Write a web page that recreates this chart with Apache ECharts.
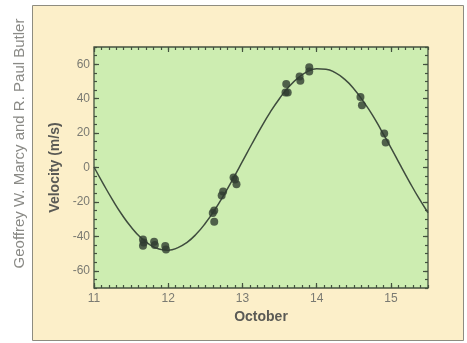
<!DOCTYPE html>
<html>
<head>
<meta charset="utf-8">
<script src="https://cdn.jsdelivr.net/npm/echarts@6/dist/echarts.min.js"></script>
<style>
html,body{margin:0;padding:0;background:#ffffff;}
#chart{width:467px;height:343px;}
</style>
</head>
<body>
<div id="chart"></div>
<script>
// Observed radial velocities (day of October, m/s)
var obsDay = [11.66, 11.67, 11.66, 11.81, 11.82, 11.96, 11.97,
              12.62, 12.60, 12.62, 12.74, 12.72, 12.88, 12.90, 12.92,
              13.59, 13.61, 13.58, 13.77, 13.78, 13.90, 13.90,
              14.59, 14.61, 14.91, 14.93];
var obsVel = [-41.8, -43.5, -45.5, -43.1, -45.0, -45.6, -47.6,
              -25.0, -26.5, -31.5, -14.0, -16.3, -5.8, -7.0, -9.7,
              48.5, 43.5, 43.5, 52.8, 50.4, 58.3, 55.8,
              41.0, 36.1, 19.7, 14.5];
// Fitted curve
var fitDay = [11.0, 11.125, 11.25, 11.375, 11.5, 11.625, 11.75, 11.875,
              12.0, 12.125, 12.25, 12.375, 12.5, 12.625, 12.75, 12.875,
              13.0, 13.125, 13.25, 13.375, 13.5, 13.625, 13.75, 13.875,
              14.0, 14.125, 14.25, 14.375, 14.5, 14.625, 14.75, 14.875,
              15.0, 15.125, 15.25, 15.375, 15.5];
var fitVel = [0.3, -9.5, -18.8, -27.3, -34.6, -40.5, -44.8, -47.3,
              -48.0, -46.7, -43.6, -38.8, -32.4, -24.7, -15.9, -6.4,
              3.5, 13.5, 23.2, 32.2, 40.1, 46.9, 52.1, 55.7,
              57.3, 57.1, 55.1, 51.3, 45.8, 38.6, 30.6, 21.2,
              11.6, 1.5, -8.3, -17.7, -26.3];
// Tick labels
var xTicks = [11, 12, 13, 14, 15];
var yTicks = [-60, -40, -20, 0, 20, 40, 60];
var xMinor = [];
for (var i = 0; i <= 45; i++) xMinor.push(Math.round((11 + i * 0.1) * 10) / 10);
var yMinor = [];
for (var j = -70; j <= 70; j += 5) yMinor.push(j);

var axisColor = '#44513f';
var labelColor = '#7a7a72';

function xAx(pos, ticks, len, labels, extra) {
  var a = {
    type: 'value', position: pos, min: 11, max: 15.5, gridIndex: 0,
    axisLine: {show: false, onZero: false},
    splitLine: {show: false},
    axisTick: {show: true, inside: true, length: len, customValues: ticks,
               lineStyle: {color: axisColor, width: 1.2}},
    axisLabel: labels ? {show: true, customValues: ticks, color: labelColor,
               fontSize: 12, fontFamily: 'Liberation Sans, Arial, sans-serif', margin: 5}
             : {show: false}
  };
  return Object.assign(a, extra || {});
}
function yAx(pos, ticks, len, labels, extra) {
  var a = {
    type: 'value', position: pos, min: -70, max: 70, gridIndex: 0,
    axisLine: {show: false, onZero: false},
    splitLine: {show: false},
    axisTick: {show: true, inside: true, length: len, customValues: ticks,
               lineStyle: {color: axisColor, width: 1.2}},
    axisLabel: labels ? {show: true, customValues: ticks, color: labelColor,
               fontSize: 12, fontFamily: 'Liberation Sans, Arial, sans-serif', margin: 4}
             : {show: false}
  };
  return Object.assign(a, extra || {});
}

var chart = echarts.init(document.getElementById('chart'), null, {renderer: 'canvas'});
chart.setOption({
  animation: false,
  backgroundColor: '#ffffff',
  graphic: [
    {type: 'rect', shape: {x: 32.5, y: 5.5, width: 431, height: 335}, z: -10,
     style: {fill: '#fcefc9', stroke: '#8e8c80', lineWidth: 1}},
    {type: 'text', x: 20, y: 143.5, rotation: Math.PI / 2,
     style: {text: 'Geoffrey W. Marcy and R. Paul Butler', fill: '#8a8a86',
             font: '15px "Liberation Sans", Arial, sans-serif',
             textAlign: 'center', textVerticalAlign: 'middle'}}
  ],
  grid: {left: 94, right: 39, top: 47, bottom: 55, show: true,
         backgroundColor: '#cdedb1', borderColor: axisColor, borderWidth: 1.3},
  xAxis: [
    xAx('bottom', xTicks, 5, true, {
      name: 'October', nameLocation: 'middle', nameGap: 21,
      nameTextStyle: {color: '#5a5a55', fontSize: 14, fontWeight: 'bold',
                      fontFamily: 'Liberation Sans, Arial, sans-serif'}}),
    xAx('bottom', xMinor, 3, false),
    xAx('top', xTicks, 5, false),
    xAx('top', xMinor, 3, false)
  ],
  yAxis: [
    yAx('left', yTicks, 5, true, {
      name: 'Velocity (m/s)', nameLocation: 'middle', nameGap: 31,
      nameTextStyle: {color: '#5a5a55', fontSize: 14, fontWeight: 'bold',
                      fontFamily: 'Liberation Sans, Arial, sans-serif'}}),
    yAx('left', yMinor, 3, false),
    yAx('right', yTicks, 5, false),
    yAx('right', yMinor, 3, false)
  ],
  series: [
    {type: 'line', xAxisIndex: 0, yAxisIndex: 0, smooth: true, showSymbol: false,
     data: fitDay.map(function (d, k) { return [d, fitVel[k]]; }),
     lineStyle: {color: '#3f4c3e', width: 1.5}, z: 2},
    {type: 'scatter', xAxisIndex: 0, yAxisIndex: 0, symbol: 'circle', symbolSize: 8,
     data: obsDay.map(function (d, k) { return [d, obsVel[k]]; }),
     itemStyle: {color: '#2f3c31'}, z: 3}
  ]
});
</script>
</body>
</html>
